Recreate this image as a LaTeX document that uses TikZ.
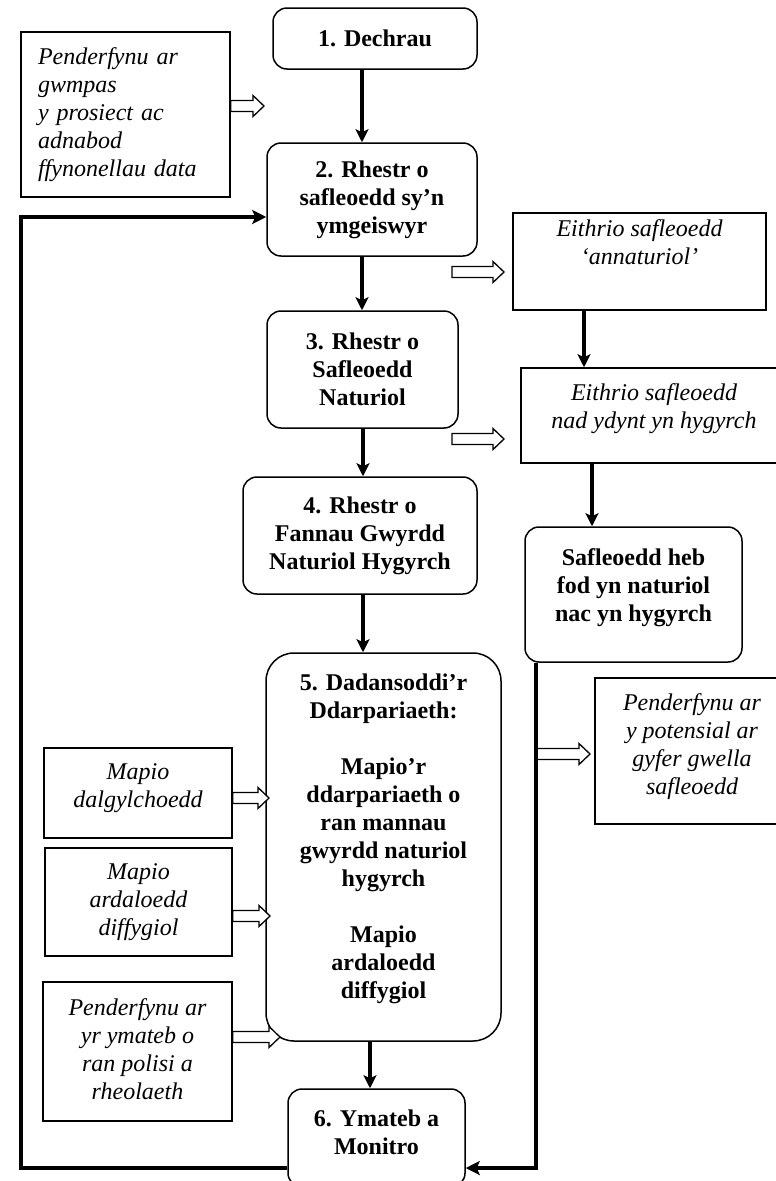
\documentclass[tikz,border=0pt]{standalone}
\usepackage{fontspec}
\setmainfont{Liberation Serif}
\usetikzlibrary{arrows.meta,calc}
\newcommand\hollowarr[2]{\path[harrowstyle] ([yshift=5.5pt]#1) -- ([xshift=-11pt,yshift=5.5pt]#2) -- ([xshift=-11pt,yshift=10.5pt]#2) -- (#2) -- ([xshift=-11pt,yshift=-10.5pt]#2) -- ([xshift=-11pt,yshift=-5.5pt]#2) -- ([yshift=-5.5pt]#1) -- cycle;}
\begin{document}
\begin{tikzpicture}[x=1pt,y=-1pt,
  rbox/.style={draw, line width=1.5pt, rounded corners=14pt, align=center, font=\fontsize{24}{28}\selectfont\bfseries, inner sep=0pt},
  sbox/.style={draw, line width=1.5pt, align=center, font=\fontsize{24}{28}\selectfont\itshape, inner sep=0pt},
  btxt/.style={align=center, inner sep=0pt, font=\fontsize{24}{28}\selectfont\bfseries},
  itxt/.style={align=center, inner sep=0pt, font=\fontsize{24}{28}\selectfont\itshape},
  flow/.style={line width=4pt, -{Stealth[length=13pt,width=13pt,inset=3pt]}},
  back/.style={line width=4.5pt, line join=miter, -{Stealth[length=14pt,width=14pt,inset=3pt]}},
  harrowstyle/.style={draw, line width=1.3pt, fill=white, line join=miter}]
\useasboundingbox (0,0) rectangle (776,1181);
\clip (0,0) rectangle (776,1181);
% main column
\node[rbox, minimum width=204pt, minimum height=61pt] (b1) at (375,38.5) {1. Dechrau};
\node[rbox, minimum width=210pt, minimum height=113pt] (b2) at (372,199.5) {2. Rhestr o\\safleoedd sy’n\\ymgeiswyr};
\node[rbox, minimum width=191pt, minimum height=117pt] (b3) at (362.5,369.5) {3. Rhestr o\\Safleoedd\\Naturiol};
\node[rbox, minimum width=234pt, minimum height=117pt] (b4) at (360,535.5) {4. Rhestr o\\Fannau Gwyrdd\\Naturiol Hygyrch};
\node[rbox, rounded corners=28pt, minimum width=235pt, minimum height=388pt] (b5) at (383.5,847) {};
\node[btxt] (t5) at (383.5,839) {5. Dadansoddi’r\\Ddarpariaeth:\\[28pt]Mapio’r\\ddarpariaeth o\\ran mannau\\gwyrdd naturiol\\hygyrch\\[28pt]Mapio\\ardaloedd\\diffygiol};
\node[rbox, minimum width=177pt, minimum height=98pt] (b6) at (376.5,1138) {};
\node[btxt] (t6) at (376.5,1132) {6. Ymateb a\\Monitro};
% right column
\node[sbox, minimum width=253pt, minimum height=97pt] (e1) at (639.5,261.5) {};
\node[itxt] (te1) at (639.5,242) {Eithrio safleoedd\\‘annaturiol’};
\node[sbox, minimum width=266pt, minimum height=95pt] (e2) at (654,415.5) {};
\node[itxt] (te2) at (654,409) {Eithrio safleoedd\\nad ydynt yn hygyrch};
\node[rbox, minimum width=217pt, minimum height=135pt] (s7) at (633.5,594.5) {};
\node[btxt] (ts7) at (633.5,588) {Safleoedd heb\\fod yn naturiol\\nac yn hygyrch};
\node[sbox, minimum width=194pt, minimum height=146pt] (p2) at (692,751) {};
\node[itxt] (tp2) at (692,747) {Penderfynu ar\\y potensial ar\\gyfer gwella\\safleoedd};
% left column
\node[sbox, align=left, text width=175pt, inner xsep=17pt, minimum height=165pt] (p1) at (125.5,114.5) {Penderfynu ar\\gwmpas\\y prosiect ac\\adnabod\\ffynonellau data};
\node[sbox, minimum width=188pt, minimum height=90pt] (m1) at (138,793) {};
\node[itxt] (tm1) at (138,788) {Mapio\\dalgylchoedd};
\node[sbox, minimum width=187pt, minimum height=108pt] (m2) at (138.5,902) {Mapio\\ardaloedd\\diffygiol};
\node[sbox, minimum width=189pt, minimum height=139pt] (p3) at (137.5,1051.5) {};
\node[itxt] (tp3) at (137.5,1049) {Penderfynu ar\\yr ymateb o\\ran polisi a\\rheolaeth};
% helper coordinates
\coordinate (y106) at (0,106);
\coordinate (y754) at (0,754);
\coordinate (y798) at (0,798);
\coordinate (y916) at (0,916);
\coordinate (y1037) at (0,1037);
\coordinate (rt) at (536,0);
\coordinate (rb) at (536,1168);
\coordinate (lb) at (21,1168);
\coordinate (lt) at (21,217);
% hollow arrows
\coordinate (h1s) at (p1.east |- y106);
\coordinate (h1e) at (264,106);
\hollowarr{h1s}{h1e}
\coordinate (h2s) at (452,272);
\coordinate (h2e) at (504,272);
\hollowarr{h2s}{h2e}
\coordinate (h3s) at (452,439);
\coordinate (h3e) at (504,439);
\hollowarr{h3s}{h3e}
\coordinate (h4s) at (rt |- y754);
\coordinate (h4e) at (590,754);
\hollowarr{h4s}{h4e}
\coordinate (h5s) at (m1.east |- y798);
\coordinate (h5e) at (269,798);
\hollowarr{h5s}{h5e}
\coordinate (h6s) at (m2.east |- y916);
\coordinate (h6e) at (270,916);
\hollowarr{h6s}{h6e}
\coordinate (h7s) at (p3.east |- y1037);
\coordinate (h7e) at (280,1037);
\hollowarr{h7s}{h7e}
% main flow arrows
\coordinate (x12) at (362,0);
\coordinate (x34) at (363,0);
\coordinate (x56) at (370,0);
\coordinate (xe) at (584,0);
\coordinate (xs) at (592,0);
\draw[flow] (b1.south -| x12) -- (b2.north -| x12);
\draw[flow] (b2.south -| x12) -- (b3.north -| x12);
\draw[flow] (b3.south -| x34) -- (b4.north -| x34);
\draw[flow] (b4.south -| x34) -- (b5.north -| x34);
\draw[flow] (b5.south -| x56) -- (b6.north -| x56);
\draw[flow] (e1.south -| xe) -- (e2.north -| xe);
\draw[flow] (e2.south -| xs) -- (s7.north -| xs);
% feedback loops
\draw[back] (b6.west |- lb) -- (lb) -- (lt) -- (b2.west |- lt);
\draw[back, line width=4pt] (s7.south -| rt) -- (rb) -- (b6.east |- rb);
\end{tikzpicture}
\end{document}
